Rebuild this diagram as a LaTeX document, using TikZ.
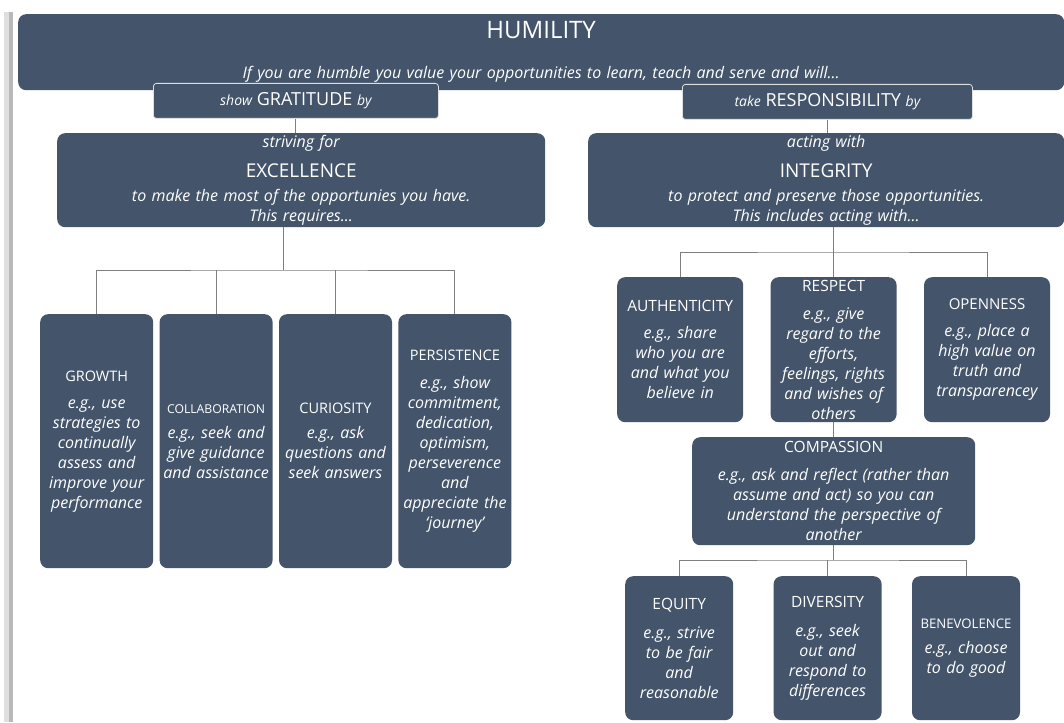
\documentclass[tikz,border=0pt]{standalone}
\usepackage{fontspec}
\setmainfont{Open Sans}
\usetikzlibrary{positioning}
\definecolor{slate}{HTML}{44546A}
\definecolor{linkgray}{HTML}{7F7F7F}
\newcommand{\hd}[2][14.5]{{\upshape\fontsize{#1}{20}\selectfont #2}}
\newcommand{\bighd}[2][19]{{\upshape\fontsize{#1}{20}\selectfont #2}}
\tikzset{
    % node styles
    box/.style = {fill=slate, text=white, rounded corners=8pt, align=center, inner xsep=2pt, inner ysep=0pt, font=\fontsize{16}{20}\selectfont\itshape},
    banner/.style = {box, anchor=north west, minimum height=94pt},
    tab/.style = {box, anchor=north west, rounded corners=3pt, draw=white!75!gray, line width=0.8pt, minimum height=35pt, font=\fontsize{14}{16}\selectfont\itshape},
    leaf/.style = {box, anchor=north west, text width=109pt, minimum height=254pt},
    value/.style = {box, anchor=north west, text width=122pt, minimum height=145pt},
    small value/.style = {box, anchor=north west, text width=104pt, minimum height=144pt},
    % connector style
    link/.style = {draw=linkgray, line width=0.9pt}
}
\begin{document}
\begin{tikzpicture}[x=1pt, y=-1pt]
        \fill[white] (0,0) rectangle (1064,722);
        \useasboundingbox (0,0) rectangle (1064,722);
        % page edge
        \fill[gray!25] (4,12) rectangle (13,722);
        \fill[gray!55] (9,12) rectangle (13,722);

        % top
        \node[box, anchor=north west, text width=1042pt, minimum height=76pt] (hum) at (18,14)
            {\bighd[24]{HUMILITY}\\[20pt] If you are humble you value your opportunities to learn, teach and serve and will...};
        \node[tab, text width=281pt] (grat) at (153,83) {show \bighd[18]{GRATITUDE} by};
        \node[tab, text width=286pt] (respo) at (682,84) {take \bighd[18]{RESPONSIBILITY} by};

        \node[banner, text width=484pt] (exc) at (57,133)
            {striving for\\[10pt] \bighd{EXCELLENCE}\\[4pt] to make the most of the opportunies you have.\\ This requires...};
        \node[banner, text width=472pt] (integ) at (588,133)
            {acting with\\[10pt] \bighd{INTEGRITY}\\[4pt] to protect and preserve those opportunities.\\ This includes acting with...};

        % left branch
        \node[leaf] (growth) at (40,314)
            {\hd{GROWTH}\\[7pt] e.g., use\\ strategies to\\ continually\\ assess and\\ improve your\\ performance};
        \node[leaf] (collab) [right=6pt of growth]
            {\hd[12.2]{COLLABORATION}\\[5pt] e.g., seek and\\ give guidance\\ and assistance};
        \node[leaf] (curio) [right=6pt of collab]
            {\hd{CURIOSITY}\\[5pt] e.g., ask\\ questions and\\ seek answers};
        \node[leaf] (persist) [right=6pt of curio]
            {\hd{PERSISTENCE}\\[8pt] e.g., show\\ commitment,\\ dedication,\\ optimism,\\ perseverence\\ and\\ appreciate the\\ ‘journey’};

        % right branch
        \node[value] (auth) at (617,277)
            {\hd[15.5]{AUTHENTICITY}\\[7pt] e.g., share\\ who you are\\ and what you\\ believe in};
        \node[value] (respect) [right=27pt of auth]
            {\hd[15.5]{RESPECT}\\[8pt] e.g., give\\ regard to the\\ efforts,\\ feelings, rights\\ and wishes of\\ others};
        \node[value] (open) [right=27pt of respect]
            {\hd[15]{OPENNESS}\\[7pt] e.g., place a\\ high value on\\ truth and\\ transparencey};
        \node[box, anchor=north west, text width=279pt, minimum height=108pt] (comp) at (692,437)
            {\hd[15.5]{COMPASSION}\\[8pt] e.g., ask and reflect (rather than\\ assume and act) so you can\\ understand the perspective of\\ another};
        \node[small value] (equity) at (625,576)
            {\hd[15.5]{EQUITY}\\[9pt] e.g., strive\\ to be fair\\ and\\ reasonable};
        \node[small value] (divers) [right=40pt of equity]
            {\hd[15.5]{DIVERSITY}\\[9pt] e.g., seek\\ out and\\ respond to\\ differences};
        \node[small value] (benev) [right=30pt of divers]
            {\hd[13.2]{BENEVOLENCE}\\[5pt] e.g., choose\\ to do good};

        % connectors
        \coordinate (ebus) at (283,270);
        \coordinate (ibus) at (833,252);
        \coordinate (cbus) at (833,560);
        \draw[link] (grat.south) -- (grat.south |- exc.north);
        \draw[link] (respo.south) -- (respo.south |- integ.north);
        \draw[link] (ebus |- exc.south) -- (ebus);
        \draw[link] (growth.north) |- (ebus) -| (persist.north);
        \draw[link] (collab.north) -- (collab.north |- ebus);
        \draw[link] (curio.north) -- (curio.north |- ebus);
        \draw[link] (respect.north |- integ.south) -- (respect.north);
        \draw[link] (auth.north) |- (ibus) -| (open.north);
        \draw[link] (respect.south) -- (respect.south |- comp.north);
        \draw[link] (cbus |- comp.south) -- (cbus);
        \draw[link] (equity.north) |- (cbus) -| (benev.north);
        \draw[link] (divers.north) -- (divers.north |- cbus);
\end{tikzpicture}
\end{document}
